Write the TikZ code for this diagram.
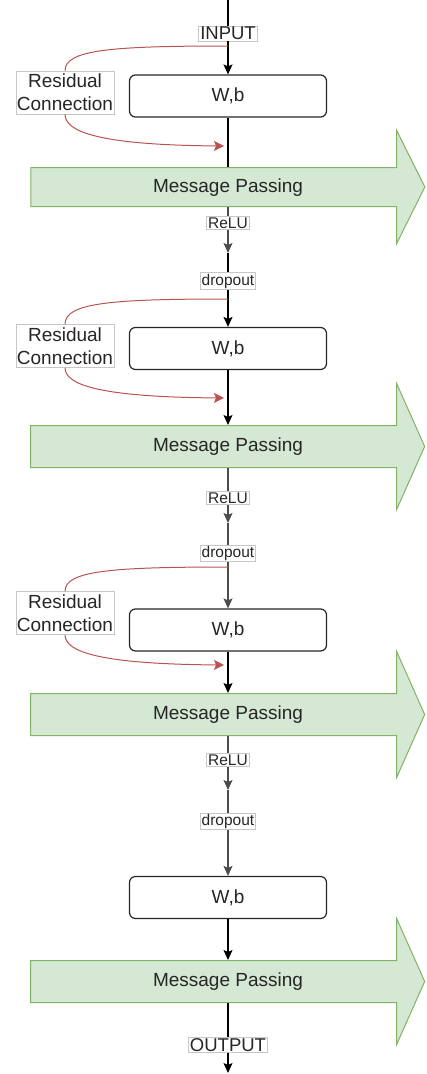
\documentclass[tikz,border=0pt]{standalone}
\usepackage{fontspec}
\setmainfont{Liberation Sans}
\usepackage{tikz}
\usetikzlibrary{shapes.arrows,arrows.meta}
\definecolor{mpfill}{HTML}{D5E8D4}
\definecolor{mpline}{HTML}{82B366}
\definecolor{resred}{HTML}{B85450}
\tikzset{
  wbbox/.style={draw=black!85,line width=1.2pt,rounded corners=6pt,minimum width=197pt,minimum height=42pt,text=black!85,font=\fontsize{19}{23}\selectfont},
  mpbox/.style={single arrow,draw=mpline,fill=mpfill,line width=1pt,minimum height=394pt,single arrow head extend=42pt,single arrow tip angle=132,inner xsep=0pt,inner ysep=11.5pt,text height=14pt,text depth=4pt,text=black!85,font=\fontsize{19}{23}\selectfont},
  tag/.style={draw=black!22,fill=white,line width=0.6pt,inner xsep=1.5pt,inner ysep=1pt,text=black!85,font=\fontsize{15.5}{18}\selectfont},
  iotag/.style={tag,font=\fontsize{18.5}{22}\selectfont},
  resbox/.style={tag,align=center,inner xsep=1pt,inner ysep=3pt,font=\fontsize{19}{23}\selectfont},
  link/.style={draw=black,line width=1.2pt},
  flow/.style={link,-{Stealth[length=10pt,width=9pt,inset=2pt]}},
  flowgray/.style={flow,draw=black!70},
  res/.style={draw=resred,line width=1pt,-{Stealth[length=10pt,width=10pt,inset=2pt]}}
}
\newcommand{\mptext}{\hspace*{10pt}Message Passing}
\begin{document}
\begin{tikzpicture}[x=1pt,y=-1pt]
   \useasboundingbox (0,0) rectangle (427,1074);
   %capas W,b
   \node[wbbox] (wb1) at (228,96) {W,b};
   \node[wbbox] (wb2) at (228,348.5) {W,b};
   \node[wbbox] (wb3) at (228,630) {W,b};
   \node[wbbox] (wb4) at (228,897.5) {W,b};
   %message passing
   \node[mpbox,inner ysep=10pt,single arrow head extend=37pt,single arrow tip angle=127] (mp1) at (223,187) {\mptext};
   \node[mpbox] (mp2) at (223,446.5) {\mptext};
   \node[mpbox] (mp3) at (223,714.5) {\mptext};
   \node[mpbox] (mp4) at (223,981.5) {\mptext};
   %etiquetas
   \node[iotag] (inp) at (228,33.5) {INPUT};
   \node[tag] (relu1) at (228,223) {ReLU};
   \node[tag] (drop1) at (228,281) {dropout};
   \node[tag] (relu2) at (228,498) {ReLU};
   \node[tag] (drop2) at (228,553.5) {dropout};
   \node[tag] (relu3) at (228,760) {ReLU};
   \node[tag] (drop3) at (228,821.5) {dropout};
   \node[iotag] (outp) at (228,1045) {OUTPUT};
   \node[resbox] (rc1) at (65,92.5) {Residual\\Connection};
   \node[resbox] (rc2) at (65,346) {Residual\\Connection};
   \node[resbox] (rc3) at (65,613) {Residual\\Connection};
   %puntos
   \coordinate (top) at (228,0);
   \coordinate (a1) at (228,253);
   \coordinate (a2) at (228,523);
   \coordinate (a3) at (228,790);
   \coordinate (bot) at (228,1073);
   \coordinate (r1s) at (228,46);
   \coordinate (r1e) at (224,146);
   \coordinate (r2s) at (228,299);
   \coordinate (r2e) at (224,398);
   \coordinate (r3s) at (228,567);
   \coordinate (r3e) at (224,665);
   %flechas
   \draw[flow] (top) -- (inp) -- (wb1);
   \draw[link] (wb1.south) -- (wb1.south |- mp1.north);
   \draw[flowgray] (relu1 |- mp1.south) -- (relu1) -- (a1);
   \draw[flow] (a1) -- (drop1) -- (wb2);
   \draw[flow] (wb2.south) -- (wb2.south |- mp2.north);
   \draw[flowgray] (relu2 |- mp2.south) -- (relu2) -- (a2);
   \draw[flowgray] (a2) -- (drop2) -- (wb3);
   \draw[flow] (wb3.south) -- (wb3.south |- mp3.north);
   \draw[flowgray] (relu3 |- mp3.south) -- (relu3) -- (a3);
   \draw[flowgray] (a3) -- (drop3) -- (wb4);
   \draw[flow] (wb4.south) -- (wb4.south |- mp4.north);
   \draw[flow] (outp |- mp4.south) -- (outp) -- (bot);
   %conexiones residuales
   \draw[res] (r1s) .. controls (110,46) and (65,50) .. (rc1)
      .. controls (65,132) and (100,145) .. (r1e);
   \draw[res] (r2s) .. controls (110,299) and (65,303) .. (rc2)
      .. controls (65,385) and (100,397) .. (r2e);
   \draw[res] (r3s) .. controls (110,567) and (65,571) .. (rc3)
      .. controls (65,652) and (100,664) .. (r3e);
\end{tikzpicture}
\end{document}
